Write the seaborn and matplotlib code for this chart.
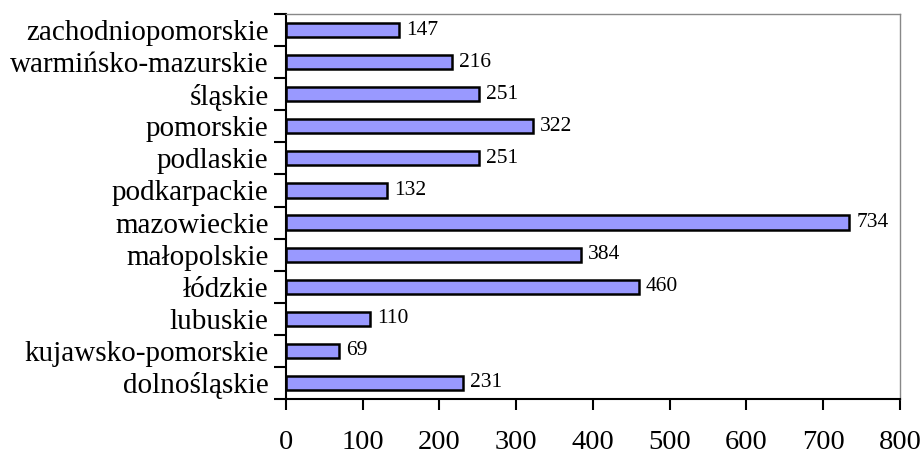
import matplotlib
matplotlib.use("Agg")
import matplotlib.pyplot as plt
import seaborn as sns
import pandas as pd
from matplotlib.ticker import FixedLocator

regions = ["zachodniopomorskie", "warmińsko-mazurskie", "śląskie", "pomorskie",
           "podlaskie", "podkarpackie", "mazowieckie", "małopolskie", "łódzkie",
           "lubuskie", "kujawsko-pomorskie", "dolnośląskie"]
values = [147, 216, 251, 322, 251, 132, 734, 384, 460, 110, 69, 231]

sns.set_style("white")
plt.rcParams["font.family"] = ["Liberation Serif", "DejaVu Serif"]
plt.rcParams["text.color"] = "black"
plt.rcParams["xtick.color"] = "black"
plt.rcParams["ytick.color"] = "black"

df = pd.DataFrame({"region": regions, "value": values})

fig = plt.figure(figsize=(9.24, 4.53), dpi=100)
ax = fig.add_axes([0.3095, 0.1192, 0.6645, 0.8499])
sns.barplot(data=df, x="value", y="region", orient="h", color="#9999FF",
            saturation=1, edgecolor="black", linewidth=1.8, width=0.44, ax=ax)
ax.bar_label(ax.containers[0], padding=5, fontsize=15.5, color="black")

ax.set_xlim(0, 800)
ax.set_ylim(len(regions) - 0.5, -0.5)
ax.set_xticks(range(0, 801, 100))
ax.set_xlabel("")
ax.set_ylabel("")

ax.tick_params(axis="x", which="major", length=8, width=1.5, direction="out",
               bottom=True, labelsize=20.5, pad=14, color="black",
               labelcolor="black")
ax.tick_params(axis="y", which="major", length=0, labelsize=21, pad=12.5,
               labelcolor="black")
ax.yaxis.set_minor_locator(FixedLocator([i - 0.5 for i in range(len(regions) + 1)]))
ax.tick_params(axis="y", which="minor", length=9, width=1.5, direction="out",
               left=True, color="black")

for side in ["left", "bottom"]:
    ax.spines[side].set_color("black")
    ax.spines[side].set_linewidth(1.5)
for side in ["top", "right"]:
    ax.spines[side].set_color("#888888")
    ax.spines[side].set_linewidth(1.0)

fig.savefig("out.png", dpi=100)
